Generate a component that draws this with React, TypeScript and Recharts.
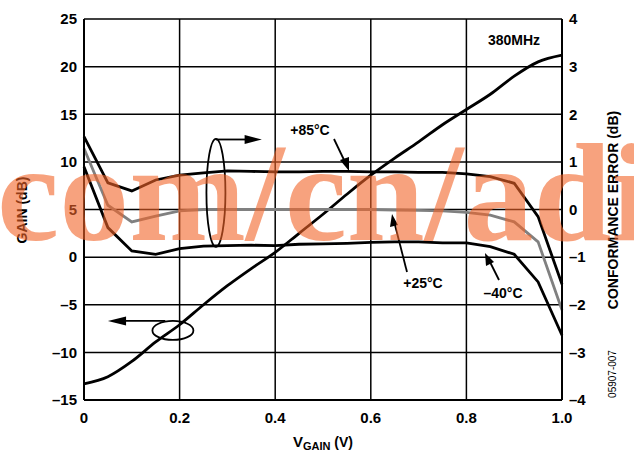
import { LineChart, Line, XAxis, YAxis, CartesianGrid } from 'recharts';

// V_GAIN sample points (V)
const vGain = [0, 0.05, 0.1, 0.15, 0.2, 0.25, 0.3, 0.35, 0.4, 0.45, 0.5, 0.55, 0.6, 0.65, 0.7, 0.75, 0.8, 0.85, 0.9, 0.95, 1.0];

// Gain (dB), left axis
const gain = [-13.3, -12.55, -10.95, -8.9, -7.1, -5.0, -3.0, -1.2, 0.5, 2.5, 4.5, 6.6, 8.6, 10.4, 12.1, 13.9, 15.5, 17.1, 19.0, 20.5, 21.2];

// Conformance error (dB), right axis
const err85 = [1.53, 0.56, 0.39, 0.62, 0.72, 0.77, 0.81, 0.8, 0.79, 0.79, 0.8, 0.8, 0.79, 0.79, 0.78, 0.78, 0.75, 0.69, 0.55, -0.15, -1.57];
const err25 = [1.28, 0.09, -0.26, -0.14, -0.03, 0.0, 0.0, 0.0, 0.0, 0.0, 0.0, 0.0, 0.0, -0.01, -0.02, -0.03, -0.06, -0.12, -0.26, -0.68, -2.11];
const errM40 = [0.9, -0.38, -0.87, -0.94, -0.82, -0.77, -0.76, -0.75, -0.76, -0.73, -0.72, -0.71, -0.69, -0.68, -0.68, -0.7, -0.7, -0.78, -0.94, -1.52, -2.64];

const xTicks = [0, 0.2, 0.4, 0.6, 0.8, 1.0];
const gainTicks = [-15, -10, -5, 0, 5, 10, 15, 20, 25];
const errTicks = [-4, -3, -2, -1, 0, 1, 2, 3, 4];

const data = vGain.map((v, i) => ({
  v,
  gain: gain[i],
  e85: err85[i],
  e25: err25[i],
  em40: errM40[i],
}));

// plot box (pixels) used to place annotations in data units
const W = 634;
const H = 453;
const PL = 84;
const PR = 562;
const PT = 19;
const PB = 400;
const px = (v: number) => PL + (v / 1) * (PR - PL);
const pyGain = (g: number) => PB - ((g + 15) / 40) * (PB - PT);
const pyErr = (e: number) => PB - ((e + 4) / 8) * (PB - PT);

const FONT = 'Arial, "Liberation Sans", Helvetica, sans-serif';
const minus = (n: number) => (n < 0 ? '\u2013' + Math.abs(n) : String(n));

const tickStyle = { fill: '#000', fontSize: 15, fontWeight: 'bold' as const, fontFamily: FONT };

function Annotations() {
  const lbl = { fontFamily: FONT, fontSize: 14, fontWeight: 'bold' as const, fill: '#000' };
  return (
    <svg width={W} height={H} style={{ position: 'absolute', left: 0, top: 0, pointerEvents: 'none' }}>
      {/* right-axis group marker */}
      <ellipse cx={px(0.276)} cy={pyErr(0.35)} rx={9.5} ry={54} fill="none" stroke="#000" strokeWidth={1.8} />
      <line x1={px(0.276)} y1={pyErr(1.47)} x2={px(0.34)} y2={pyErr(1.47)} stroke="#000" strokeWidth={1.8} />
      <polygon points={`${px(0.372)},${pyErr(1.47)} ${px(0.336)},${pyErr(1.47) - 4.5} ${px(0.336)},${pyErr(1.47) + 4.5}`} fill="#000" />
      {/* left-axis group marker */}
      <ellipse cx={px(0.186)} cy={pyGain(-7.7)} rx={20.5} ry={9.5} fill="none" stroke="#000" strokeWidth={1.8} />
      <line x1={px(0.17)} y1={pyGain(-6.7)} x2={px(0.085)} y2={pyGain(-6.7)} stroke="#000" strokeWidth={1.8} />
      <polygon points={`${px(0.05)},${pyGain(-6.7)} ${px(0.088)},${pyGain(-6.7) - 4.5} ${px(0.088)},${pyGain(-6.7) + 4.5}`} fill="#000" />

      {/* curve labels */}
      <text x={310} y={135} textAnchor="middle" {...lbl}>+85°C</text>
      <line x1={334} y1={139} x2={345} y2={162} stroke="#000" strokeWidth={1.8} />
      <polygon points="349,171 340,160 349,157" fill="#000" />

      <text x={423} y={288} textAnchor="middle" {...lbl}>+25°C</text>
      <line x1={407} y1={272} x2={395} y2={225} stroke="#000" strokeWidth={1.8} />
      <polygon points="392,214 390,227 398,225" fill="#000" />

      <text x={503} y={298} textAnchor="middle" {...lbl}>{'\u201340°C'}</text>
      <line x1={499} y1={280} x2={490} y2={262} stroke="#000" strokeWidth={1.8} />
      <polygon points="485,253 486,266 494,262" fill="#000" />

      <text x={514} y={45} textAnchor="middle" {...lbl}>380MHz</text>

      {/* axis titles */}
      <text x={0} y={0} transform="translate(27,210) rotate(-90)" textAnchor="middle" {...lbl}>GAIN (dB)</text>
      <text x={0} y={0} transform="translate(618,210) rotate(-90)" textAnchor="middle" {...lbl}>CONFORMANCE ERROR (dB)</text>
      <text x={323} y={447} textAnchor="middle" {...lbl}>
        <tspan fontSize={15}>V</tspan>
        <tspan fontSize={11} dy={3}>GAIN</tspan>
        <tspan fontSize={14} dy={-3}> (V)</tspan>
      </text>
      <text x={0} y={0} transform="translate(616,374) rotate(-90)" textAnchor="middle" fontFamily={FONT} fontSize={10} fill="#000">
        05907-007
      </text>
    </svg>
  );
}

export default function App() {
  return (
    <div style={{ position: 'absolute', left: 0, top: 0, width: W, height: H, background: '#fff' }}>
      <LineChart width={W} height={H} data={data} margin={{ top: PT, right: 0, bottom: 0, left: 0 }}>
        <CartesianGrid yAxisId="left" stroke="#000" strokeWidth={1.5} horizontalValues={gainTicks} verticalValues={xTicks} />
        <XAxis
          dataKey="v"
          type="number"
          domain={[0, 1]}
          ticks={xTicks}
          tickFormatter={(v: number) => (v === 0 ? '0' : v.toFixed(1))}
          height={H - PB}
          tick={tickStyle}
          tickSize={0}
          tickMargin={12}
          axisLine={{ stroke: '#000', strokeWidth: 2 }}
          interval={0}
        />
        <YAxis
          yAxisId="left"
          domain={[-15, 25]}
          ticks={gainTicks}
          tickFormatter={minus}
          width={PL}
          tick={tickStyle}
          tickSize={0}
          tickMargin={7}
          axisLine={{ stroke: '#000', strokeWidth: 2 }}
          interval={0}
        />
        <YAxis
          yAxisId="right"
          orientation="right"
          domain={[-4, 4]}
          ticks={errTicks}
          tickFormatter={minus}
          width={W - PR}
          tick={tickStyle}
          tickSize={0}
          tickMargin={7}
          axisLine={{ stroke: '#000', strokeWidth: 2 }}
          interval={0}
        />
        <Line yAxisId="left" dataKey="gain" type="monotone" stroke="#000" strokeWidth={2.8} dot={false} isAnimationActive={false} />
        <Line yAxisId="right" dataKey="e85" type="linear" stroke="#000" strokeWidth={2.8} dot={false} isAnimationActive={false} />
        <Line yAxisId="right" dataKey="e25" type="linear" stroke="#808080" strokeWidth={2.8} dot={false} isAnimationActive={false} />
        <Line yAxisId="right" dataKey="em40" type="linear" stroke="#000" strokeWidth={2.8} dot={false} isAnimationActive={false} />
      </LineChart>
      <Annotations />
      <div
        style={{
          position: 'absolute',
          left: -3,
          top: 0,
          width: W + 3,
          height: H,
          overflow: 'hidden',
          pointerEvents: 'none',
        }}
      >
        <div
          style={{
            position: 'absolute',
            left: 0,
            top: 243 - 120,
            whiteSpace: 'nowrap',
            fontFamily: '"Liberation Serif", "Times New Roman", serif',
            fontWeight: 'bold',
            fontSize: 140,
            lineHeight: '140px',
            height: 160,
            color: 'rgba(242, 100, 40, 0.6)',
          }}
        >
          com/cn/adi
        </div>
      </div>
    </div>
  );
}
